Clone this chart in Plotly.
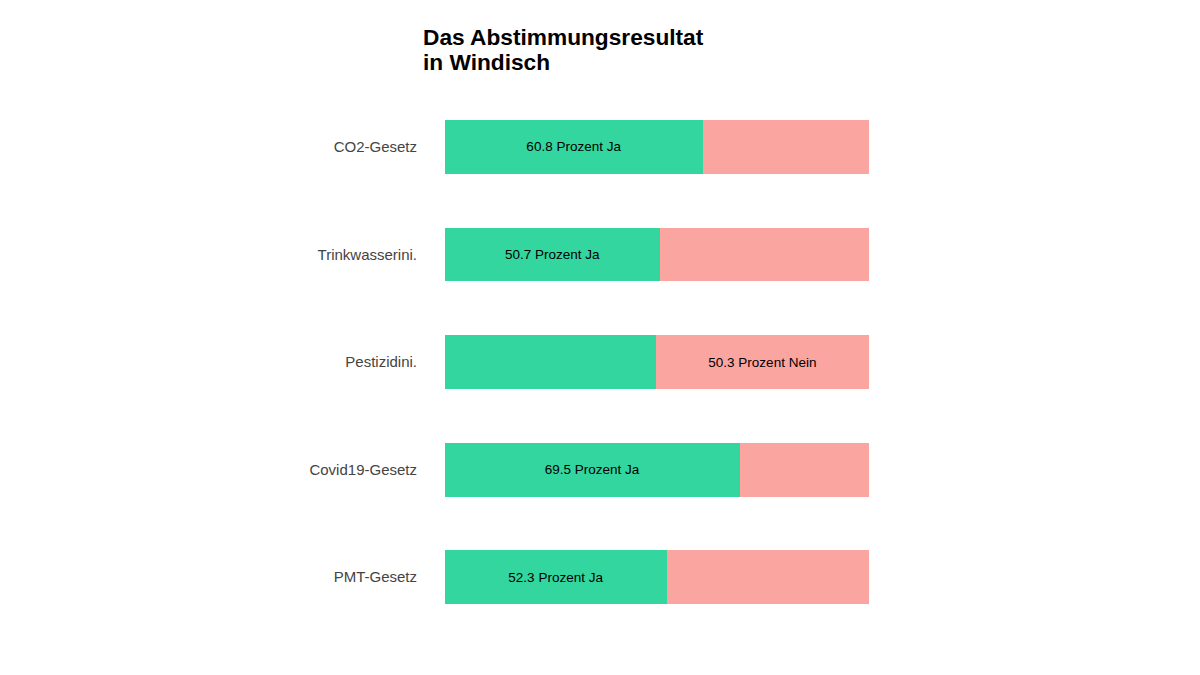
import plotly.graph_objects as go

vorlagen = ["CO2-Gesetz", "Trinkwasserini.", "Pestizidini.", "Covid19-Gesetz", "PMT-Gesetz"]
ja = [60.8, 50.7, 49.7, 69.5, 52.3]
nein = [39.2, 49.3, 50.3, 30.5, 47.7]
ja_text = ["60.8 Prozent Ja", "50.7 Prozent Ja", "", "69.5 Prozent Ja", "52.3 Prozent Ja"]
nein_text = ["", "", "50.3 Prozent Nein", "", ""]

fig = go.Figure()
fig.add_trace(go.Bar(y=vorlagen, x=ja, orientation="h", marker_color="#33d69f", marker_line_width=0,
                     text=ja_text, textposition="inside", insidetextanchor="middle", textangle=0,
                     insidetextfont=dict(color="#000000", size=13.5)))
fig.add_trace(go.Bar(y=vorlagen, x=nein, orientation="h", marker_color="#fba5a1", marker_line_width=0,
                     text=nein_text, textposition="inside", insidetextanchor="middle", textangle=0,
                     insidetextfont=dict(color="#000000", size=13.5)))
fig.update_layout(
    barmode="stack",
    bargap=0.5,
    showlegend=False,
    width=1200,
    height=675,
    paper_bgcolor="white",
    plot_bgcolor="white",
    font=dict(family="Liberation Sans, Arial, sans-serif"),
    margin=dict(l=437, r=339, t=85, b=52),
    title=dict(text="<b>Das Abstimmungsresultat</b>", x=415 / 1200, xanchor="left",
               y=1 - 29 / 675, yanchor="middle", font=dict(size=22.7, color="#000000")),
)
# second title line sits as an annotation, the reference has tighter line spacing than <br> gives
fig.add_annotation(text="<b>in Windisch</b>", xref="paper", yref="paper", x=0, y=1, xanchor="left",
                   yanchor="middle", xshift=-22, yshift=31, showarrow=False, borderpad=0, borderwidth=0,
                   font=dict(size=22.7, color="#000000"))
fig.update_xaxes(range=[0, 100], showticklabels=False, showgrid=False, zeroline=False)
fig.update_yaxes(autorange="reversed", showgrid=False, zeroline=False, ticks="", ticklabelstandoff=27,
                 tickfont=dict(size=15, color="#444444"))
fig.write_html("out.html")
